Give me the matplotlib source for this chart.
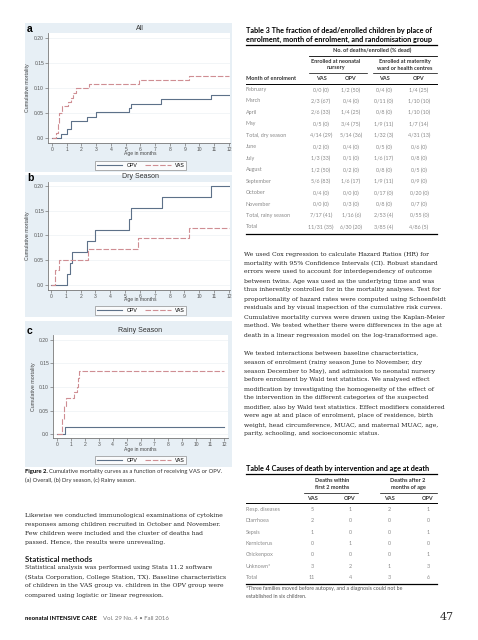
import matplotlib.pyplot as plt
from matplotlib.lines import Line2D
import matplotlib.patches as mpatches

W, H = 478, 640

# ---- Kaplan-Meier curves (age in months, cumulative mortality)
all_opv_t = [0, 0.63, 1.0, 1.3, 2.4, 3.0, 5.25, 5.35, 7.4, 10.8, 12]
all_opv_y = [0, 0.009, 0.018, 0.034, 0.043, 0.052, 0.060, 0.069, 0.078, 0.086, 0.086]
all_vas_t = [0, 0.25, 0.4, 0.5, 0.65, 1.1, 1.3, 1.45, 1.6, 2.5, 5.9, 9.3, 12]
all_vas_y = [0, 0.01, 0.03, 0.05, 0.065, 0.072, 0.08, 0.09, 0.10, 0.108, 0.116, 0.125, 0.125]

dry_opv_t = [0, 1.06, 1.3, 1.43, 2.45, 3.0, 5.27, 5.37, 7.47, 10.8, 12]
dry_opv_y = [0, 0.022, 0.045, 0.067, 0.089, 0.111, 0.133, 0.155, 0.178, 0.200, 0.200]
dry_vas_t = [0, 0.25, 0.57, 2.5, 5.9, 9.3, 12]
dry_vas_y = [0, 0.03, 0.05, 0.073, 0.095, 0.116, 0.116]

rainy_opv_t = [0, 0.6, 12]
rainy_opv_y = [0, 0.0155, 0.0155]
rainy_vas_t = [0, 0.36, 0.5, 0.64, 1.24, 1.4, 1.52, 1.6, 12]
rainy_vas_y = [0, 0.033, 0.06, 0.076, 0.089, 0.10, 0.12, 0.133, 0.133]

y_ticks = [0, 0.05, 0.10, 0.15, 0.20]
y_tick_labels = ['0.0', '0.05', '0.10', '0.15', '0.20']
x_ticks = list(range(13))

# ---- Table 3
t3_months = ['February', 'March', 'April', 'May', 'Total, dry season', 'June', 'July',
             'August', 'September', 'October', 'November', 'Total, rainy season', 'Total']
t3_nursery_vas = ['0/0 (0)', '2/3 (67)', '2/6 (33)', '0/5 (0)', '4/14 (29)', '0/2 (0)', '1/3 (33)',
                  '1/2 (50)', '5/6 (83)', '0/4 (0)', '0/0 (0)', '7/17 (41)', '11/31 (35)']
t3_nursery_opv = ['1/2 (50)', '0/4 (0)', '1/4 (25)', '3/4 (75)', '5/14 (36)', '0/4 (0)', '0/1 (0)',
                  '0/2 (0)', '1/6 (17)', '0/0 (0)', '0/3 (0)', '1/16 (6)', '6/30 (20)']
t3_ward_vas = ['0/4 (0)', '0/11 (0)', '0/8 (0)', '1/9 (11)', '1/32 (3)', '0/5 (0)', '1/6 (17)',
               '0/8 (0)', '1/9 (11)', '0/17 (0)', '0/8 (0)', '2/53 (4)', '3/85 (4)']
t3_ward_opv = ['1/4 (25)', '1/10 (10)', '1/10 (10)', '1/7 (14)', '4/31 (13)', '0/6 (0)', '0/8 (0)',
               '0/5 (0)', '0/9 (0)', '0/20 (0)', '0/7 (0)', '0/55 (0)', '4/86 (5)']

# ---- Table 4
t4_causes = ['Resp. diseases', 'Diarrhoea', 'Sepsis', 'Kernicterus', 'Chickenpox', 'Unknown*', 'Total']
t4_early_vas = [5, 2, 1, 0, 0, 3, 11]
t4_early_opv = [1, 0, 0, 1, 0, 2, 4]
t4_late_vas = [2, 0, 0, 0, 0, 1, 3]
t4_late_opv = [1, 0, 1, 0, 1, 3, 6]

left_par = ['Likewise we conducted immunological examinations of cytokine',
            'responses among children recruited in October and November.',
            'Few children were included and the cluster of deaths had',
            'passed. Hence, the results were unrevealing.']
stat_par = ['Statistical analysis was performed using Stata 11.2 software',
            '(Stata Corporation, College Station, TX). Baseline characteristics',
            'of children in the VAS group vs. children in the OPV group were',
            'compared using logistic or linear regression.']
right_par1 = ['We used Cox regression to calculate Hazard Ratios (HR) for',
              'mortality with 95% Confidence Intervals (CI). Robust standard',
              'errors were used to account for interdependency of outcome',
              'between twins. Age was used as the underlying time and was',
              'thus inherently controlled for in the mortality analyses. Test for',
              'proportionality of hazard rates were computed using Schoenfeldt',
              'residuals and by visual inspection of the cumulative risk curves.',
              'Cumulative mortality curves were drawn using the Kaplan-Meier',
              'method. We tested whether there were differences in the age at',
              'death in a linear regression model on the log-transformed age.']
right_par2 = ['We tested interactions between baseline characteristics,',
              'season of enrolment (rainy season June to November, dry',
              'season December to May), and admission to neonatal nursery',
              'before enrolment by Wald test statistics. We analysed effect',
              'modification by investigating the homogeneity of the effect of',
              'the intervention in the different categories of the suspected',
              'modifier, also by Wald test statistics. Effect modifiers considered',
              'were age at and place of enrolment, place of residence, birth',
              'weight, head circumference, MUAC, and maternal MUAC, age,',
              'parity, schooling, and socioeconomic status.']

OPV_C = '#5d7189'
VAS_C = '#cf8e93'
BG = '#e7eff5'
SERIF = 'DejaVu Serif'
SANS = 'Lato'
GRAPH = 'Liberation Sans'
BODY = 4.45

fig = plt.figure(figsize=(W / 100, H / 100), dpi=100)


def txt(x, y, s, **kw):
    kw.setdefault('va', 'center')
    fig.text(x / W, 1 - y / H, s, **kw)


def hline(x0, x1, y, lw=0.6, color='black'):
    fig.add_artist(Line2D([x0 / W, x1 / W], [1 - y / H] * 2, transform=fig.transFigure,
                          color=color, lw=lw))


def panel(bg, box, xlim, ylim, opv, vas, letter, title, ylab_x, xlab_y, leg_y):
    # light blue background of the Stata graph
    fig.add_artist(mpatches.Rectangle((bg[0] / W, 1 - bg[3] / H), (bg[2] - bg[0]) / W,
                                      (bg[3] - bg[1]) / H, transform=fig.transFigure,
                                      color=BG, lw=0, zorder=0))
    l, t, r, b = box
    ax = fig.add_axes([l / W, 1 - b / H, (r - l) / W, (b - t) / H])
    ax.set_facecolor('white')
    ax.step(opv[0], opv[1], where='post', color=OPV_C, lw=0.8, label='OPV')
    ax.step(vas[0], vas[1], where='post', color=VAS_C, lw=0.8, dashes=(5, 1.6), label='VAS')
    ax.set_xlim(*xlim)
    ax.set_ylim(*ylim)
    ax.set_xticks(x_ticks)
    ax.set_yticks(y_ticks)
    ax.set_yticklabels(y_tick_labels)
    ax.grid(axis='y', color='#edf1f4', lw=0.5)
    ax.set_axisbelow(True)
    for s in ['top', 'right']:
        ax.spines[s].set_visible(False)
    for s in ['left', 'bottom']:
        ax.spines[s].set_color('#777777')
        ax.spines[s].set_linewidth(0.6)
    ax.tick_params(direction='out', length=2, width=0.5, colors='#777777',
                   labelsize=3.6, labelcolor='#555555', pad=0.8)
    for lab in ax.get_xticklabels() + ax.get_yticklabels():
        lab.set_family(GRAPH)
    txt(27, t - 4, letter, fontsize=7.5, fontweight='bold', family=GRAPH, ha='left')
    txt(140, t - 5, title, fontsize=5, color='#333333', family=GRAPH, ha='center')
    txt(ylab_x, (t + b) / 2, 'Cumulative mortality', fontsize=3.8, color='#444444',
        family=GRAPH, rotation=90, ha='center')
    txt(140, xlab_y, 'Age in months', fontsize=3.6, color='#444444', family=GRAPH, ha='center')
    leg = ax.legend(loc='center', bbox_to_anchor=(140.5 / W, 1 - leg_y / H),
                    bbox_transform=fig.transFigure, ncol=2, frameon=True,
                    fancybox=False, edgecolor='#777777', handlelength=5.0, columnspacing=1.5,
                    borderpad=0.3, handletextpad=0.8, prop={'family': GRAPH, 'size': 3.7})
    leg.get_frame().set_linewidth(0.5)
    return ax


panel((25, 23, 232, 172), (48, 33, 230, 143), (-0.27, 12.07), (-0.01, 0.21),
      (all_opv_t, all_opv_y), (all_vas_t, all_vas_y), 'a', 'All', 28, 154, 165.5)
panel((25, 175, 232, 317), (48, 182, 230, 290), (-0.2, 12.07), (-0.0101, 0.208),
      (dry_opv_t, dry_opv_y), (dry_vas_t, dry_vas_y), 'b', 'Dry Season', 28, 300, 310.5)
panel((25, 321, 232, 467), (53, 335, 228, 438), (-0.29, 12.29), (-0.0084, 0.2105),
      (rainy_opv_t, rainy_opv_y), (rainy_vas_t, rainy_vas_y), 'c', 'Rainy Season', 33, 450, 460)

# ---- caption
txt(25, 472, 'Figure 2.', fontsize=4.2, fontweight='bold', family=SANS, ha='left')
txt(49, 472, 'Cumulative mortality curves as a function of receiving VAS or OPV.',
    fontsize=4.2, family=SANS, ha='left', color='#333333')
txt(25, 480, '(a) Overall, (b) Dry season, (c) Rainy season.', fontsize=4.2, family=SANS,
    ha='left', color='#333333')

# ---- left column body text
for i, line in enumerate(left_par):
    txt(25, 516 + i * 8.8, line, fontsize=BODY, family=SERIF, ha='left', color='#222222')
txt(25, 559, 'Statistical methods', fontsize=5.7, fontweight='bold', family=SANS, ha='left',
    color='#222222')
for i, line in enumerate(stat_par):
    txt(25, 568 + i * 9, line, fontsize=BODY, family=SERIF, ha='left', color='#222222')
txt(25, 618, 'neonatal INTENSIVE CARE', fontsize=4.3, fontweight='bold', family=SANS, ha='left')
txt(103, 618, 'Vol. 29 No. 4 \u2022 Fall 2016', fontsize=4.3, family=SANS, ha='left',
    color='#777777')

# ---- Table 3
TT = 5.2
TH = 4.0
TC = 3.85
txt(246, 30, 'Table 3 The fraction of dead/enrolled children by place of', fontsize=TT,
    fontweight='bold', family=SANS, ha='left')
txt(246, 39, 'enrolment, month of enrolment, and randomisation group', fontsize=TT,
    fontweight='bold', family=SANS, ha='left')
hline(246, 437, 44.5, lw=0.9)
txt(372, 50.5, 'No. of deaths/enrolled (% dead)', fontsize=TH, fontweight='bold',
    family=SANS, ha='center', color='#333333')
hline(309, 437, 55.5, lw=0.6)
txt(336, 61.5, 'Enrolled at neonatal', fontsize=TH, fontweight='bold', family=SANS,
    ha='center', color='#333333')
txt(336, 68, 'nursery', fontsize=TH, fontweight='bold', family=SANS, ha='center',
    color='#333333')
txt(405, 61.5, 'Enrolled at maternity', fontsize=TH, fontweight='bold', family=SANS,
    ha='center', color='#333333')
txt(405, 68, 'ward or health centres', fontsize=TH, fontweight='bold', family=SANS,
    ha='center', color='#333333')
hline(309, 367, 73, lw=0.5)
hline(373, 437, 73, lw=0.5)
txt(246, 79, 'Month of enrolment', fontsize=TH, fontweight='bold', family=SANS, ha='left',
    color='#333333')
t3_cols = [321, 351, 384, 419]
for xc, head in zip(t3_cols, ['VAS', 'OPV', 'VAS', 'OPV']):
    txt(xc, 79, head, fontsize=TH, fontweight='bold', family=SANS, ha='center',
        color='#333333')
hline(246, 437, 84, lw=0.7)
t3_rows_y = [90, 101, 112.5, 124, 135.5, 147, 158.5, 170, 181.5, 193, 204, 215.5, 227]
for i, yy in enumerate(t3_rows_y):
    txt(246, yy, t3_months[i], fontsize=TC, family=SANS, ha='left', color='#8a8a8a')
    vals = [t3_nursery_vas[i], t3_nursery_opv[i], t3_ward_vas[i], t3_ward_opv[i]]
    for xc, v in zip(t3_cols, vals):
        txt(xc, yy, v, fontsize=TC, family=SANS, ha='center', color='#8a8a8a')
hline(246, 437, 233.5, lw=0.9)

# ---- right column body text
for i, line in enumerate(right_par1):
    txt(244, 254 + i * 9.0, line, fontsize=BODY, family=SERIF, ha='left', color='#222222')
for i, line in enumerate(right_par2):
    txt(244, 353 + i * 9.0, line, fontsize=BODY, family=SERIF, ha='left', color='#222222')

# ---- Table 4
txt(246, 469, 'Table 4 Causes of death by intervention and age at death', fontsize=TT,
    fontweight='bold', family=SANS, ha='left')
hline(246, 437, 474, lw=0.9)
txt(332, 481, 'Deaths within', fontsize=TH, fontweight='bold', family=SANS, ha='center',
    color='#333333')
txt(332, 487.5, 'first 2 months', fontsize=TH, fontweight='bold', family=SANS, ha='center',
    color='#333333')
txt(408, 481, 'Deaths after 2', fontsize=TH, fontweight='bold', family=SANS, ha='center',
    color='#333333')
txt(408, 487.5, 'months of age', fontsize=TH, fontweight='bold', family=SANS, ha='center',
    color='#333333')
hline(304, 358, 493, lw=0.5)
hline(380, 437, 493, lw=0.5)
t4_cols = [312, 350, 389, 428]
for xc, head in zip(t4_cols, ['VAS', 'OPV', 'VAS', 'OPV']):
    txt(xc, 498, head, fontsize=TH, fontweight='bold', family=SANS, ha='center',
        color='#333333')
hline(246, 437, 503, lw=0.7)
for i, cause in enumerate(t4_causes):
    yy = 509.5 + i * 11.3
    txt(246, yy, cause, fontsize=TC, family=SANS, ha='left', color='#8a8a8a')
    vals = [t4_early_vas[i], t4_early_opv[i], t4_late_vas[i], t4_late_opv[i]]
    for xc, v in zip(t4_cols, vals):
        txt(xc, yy, str(v), fontsize=TC, family=SANS, ha='center', color='#8a8a8a')
hline(246, 437, 583.5, lw=0.9)
txt(246, 588.5, '*Three families moved before autopsy, and a diagnosis could not be',
    fontsize=3.75, family=SANS, ha='left', color='#555555')
txt(246, 596, 'established in six children.', fontsize=3.75, family=SANS, ha='left',
    color='#555555')

txt(454, 617, '47', fontsize=8, family=SERIF, ha='right', color='#333333')

fig.savefig('out.png', dpi=100)
